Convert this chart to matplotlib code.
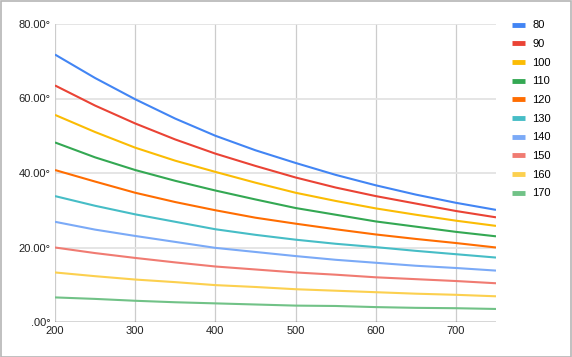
import matplotlib

matplotlib.use("Agg")
import matplotlib.pyplot as plt
from matplotlib.patches import Rectangle
from matplotlib.ticker import FuncFormatter

plt.rcParams["font.family"] = ["Liberation Sans", "DejaVu Sans"]

x = [200, 250, 300, 350, 400, 450, 500, 550, 600, 650, 700, 750]

s80 = [71.8, 65.5, 59.8, 54.6, 50.0, 46.1, 42.7, 39.5, 36.7, 34.2, 32.0, 30.1]
s90 = [63.5, 58.1, 53.3, 49.0, 45.2, 41.9, 38.8, 36.1, 33.8, 31.8, 29.8, 28.1]
s100 = [55.6, 51.0, 46.8, 43.3, 40.3, 37.4, 34.7, 32.5, 30.5, 28.8, 27.2, 25.8]
s110 = [48.2, 44.2, 40.8, 37.9, 35.3, 32.9, 30.6, 28.8, 27.0, 25.6, 24.2, 23.0]
s120 = [40.8, 37.7, 34.7, 32.2, 30.0, 28.0, 26.4, 24.9, 23.5, 22.3, 21.2, 20.0]
s130 = [33.8, 31.2, 28.9, 26.9, 24.9, 23.4, 22.1, 21.0, 20.1, 19.1, 18.2, 17.3]
s140 = [26.9, 24.8, 23.1, 21.5, 19.9, 18.8, 17.7, 16.7, 15.9, 15.1, 14.5, 13.8]
s150 = [20.0, 18.5, 17.2, 16.0, 14.9, 14.1, 13.3, 12.7, 12.0, 11.5, 11.0, 10.4]
s160 = [13.3, 12.3, 11.4, 10.7, 9.9, 9.4, 8.8, 8.4, 8.0, 7.6, 7.3, 6.9]
s170 = [6.6, 6.2, 5.7, 5.3, 5.0, 4.7, 4.4, 4.3, 4.0, 3.8, 3.7, 3.5]

labels = ["80", "90", "100", "110", "120", "130", "140", "150", "160", "170"]
series = [s80, s90, s100, s110, s120, s130, s140, s150, s160, s170]
colors = ["#4285F4", "#EA4335", "#FBBC04", "#34A853", "#FF6D01",
          "#46BDC6", "#7BAAF7", "#F07B72", "#FCD04F", "#71C287"]

fig = plt.figure(figsize=(5.72, 3.57), dpi=100)
ax = fig.add_axes([55 / 572, 35 / 357, 441 / 572, 298 / 357])

for ys, lab, c in zip(series, labels, colors):
    ax.plot(x, ys, color=c, lw=1.5, label=lab, solid_capstyle="butt")

ax.set_xlim(200, 750)
ax.set_ylim(0, 80)
ax.set_xticks([200, 300, 400, 500, 600, 700])
ax.set_yticks([0, 20, 40, 60, 80])


def deg_fmt(v, pos):
    s = f"{v:.2f}°"
    return s[1:] if s.startswith("0") else s


ax.yaxis.set_major_formatter(FuncFormatter(deg_fmt))
ax.tick_params(length=0, labelsize=8, colors="#222222", pad=3)
ax.tick_params(axis="x", pad=3)

for v in [300, 400, 500, 600, 700]:
    ax.axvline(v, color="#cccccc", lw=0.9, zorder=0)
for v in [20, 40, 60, 80]:
    ax.axhline(v, color="#e3e3e3", lw=1.3, zorder=0)
ax.axvline(200, color="#cccccc", lw=0.9, zorder=0)
ax.axhline(0, color="#333333", lw=1.0, zorder=3)

for sp in ax.spines.values():
    sp.set_visible(False)

ax.legend(loc="upper left", bbox_to_anchor=(508 / 572, 1 - 16 / 357),
          bbox_transform=fig.transFigure, frameon=False, fontsize=8,
          handlelength=1.1, handletextpad=0.7, labelspacing=0.78,
          borderaxespad=0)
for h in ax.get_legend().get_lines():
    h.set_linewidth(3.5)

fig.patches.append(Rectangle((0.5 / 572, 0.5 / 357), 570.5 / 572, 355.5 / 357,
                             transform=fig.transFigure, fill=False,
                             edgecolor="#b5b5b5", lw=1.2))

fig.savefig("out.png", dpi=100)
